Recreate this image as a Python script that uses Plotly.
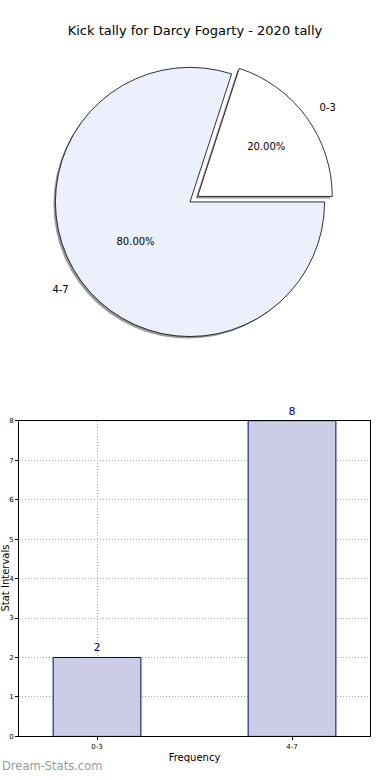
import plotly.graph_objects as go

# ---- data ----
categories = ["0-3", "4-7"]
counts = [2, 8]
pie_colors = ["#ffffff", "#ebf0fc"]
pie_pull = [0.07, 0]
title_text = "Kick tally for Darcy Fogarty - 2020 tally"
y_ticks = [0, 1, 2, 3, 4, 5, 6, 7, 8]

W, H = 390, 780
FONT = "DejaVu Sans"


def fx(p):
    return p / W


def fy(p):
    return 1 - p / H


def pie_domain(cx, cy, r, dx=0, dy=0):
    box = 2 * r * (1 + max(pie_pull))
    return dict(x=[fx(cx - box / 2 + dx), fx(cx + box / 2 + dx)],
                y=[fy(cy + box / 2 + dy), fy(cy - box / 2 + dy)])


# ---- pie geometry (pixel layout) ----
cx, cy, r = 190, 200, 136

# first wedge starts at 3 o'clock and runs counterclockwise
# (plotly's counterclockwise mode ends the first slice at `rotation`)
rotation = 90 - 360 * counts[0] / sum(counts)

fig = go.Figure()

common = dict(
    labels=categories, values=counts, sort=False, direction="counterclockwise",
    rotation=rotation, pull=pie_pull, showlegend=False, hoverinfo="skip",
)

# shadow
fig.add_trace(go.Pie(
    **common, domain=pie_domain(cx, cy, r, dx=-2, dy=2),
    marker=dict(colors=["#9a9a9a", "#9a9a9a"], line=dict(width=0)),
    textinfo="none",
))
# main pie
fig.add_trace(go.Pie(
    **common, domain=pie_domain(cx, cy, r),
    marker=dict(colors=pie_colors, line=dict(color="#000000", width=0.8)),
    texttemplate="%{percent:.2%}", textposition="inside",
    insidetextorientation="horizontal",
    textfont=dict(family=FONT, size=10, color="#000000"),
))
# outside labels (invisible, slightly larger ring so the labels sit further out)
fig.add_trace(go.Pie(
    **common, domain=pie_domain(cx, cy, r + 12),
    marker=dict(colors=["rgba(0,0,0,0)", "rgba(0,0,0,0)"], line=dict(width=0)),
    textinfo="label", textposition="outside",
    outsidetextfont=dict(family=FONT, size=10, color="#000000"),
))

# ---- bar chart ----
fig.add_trace(go.Bar(
    x=[0, 1], y=counts, width=0.45,
    marker=dict(color="#ccccE6", line=dict(color="#000080", width=1)),
    text=[str(c) for c in counts], textposition="outside",
    textfont=dict(family=FONT, size=11, color="#000099"),
    cliponaxis=False, showlegend=False, hoverinfo="skip",
))

axis_common = dict(
    showgrid=True, griddash="1px,2px", gridcolor="#aaaaaa", gridwidth=1,
    showline=True, linecolor="#000000", linewidth=1, mirror=True,
    ticks="outside", ticklen=3, tickcolor="#000000",
    tickfont=dict(family=FONT, size=7, color="#000000"), zeroline=False,
)

fig.update_layout(
    width=W, height=H,
    margin=dict(l=0, r=0, t=0, b=0),
    paper_bgcolor="#ffffff", plot_bgcolor="#ffffff",
    font=dict(family=FONT, color="#000000"),
    title=dict(text=title_text, x=0.5, xanchor="center", y=fy(30), yanchor="middle",
               font=dict(family=FONT, size=13, color="#000000")),
    xaxis=dict(**axis_common, domain=[fx(19), fx(370)], range=[-0.4, 1.4],
               tickmode="array", tickvals=[0, 1], ticktext=categories,
               title=dict(text="Frequency", font=dict(family=FONT, size=10), standoff=4)),
    yaxis=dict(**axis_common, domain=[fy(740), fy(421)], range=[0, 8],
               tickmode="array", tickvals=y_ticks),
    annotations=[
        dict(text="Stat Intervals", textangle=-90, x=fx(5.5), y=fy(580), xref="paper", yref="paper",
             xanchor="center", yanchor="middle", showarrow=False,
             font=dict(family=FONT, size=10, color="#000000")),
        dict(text="Dream-Stats.com", x=0, y=fy(770), xref="paper", yref="paper",
             xanchor="left", yanchor="middle", showarrow=False,
             font=dict(family=FONT, size=11.5, color="#999999")),
    ],
)

fig.write_html(
    "out.html",
    config={"displayModeBar": False},
    post_script="document.body.style.margin='0';document.body.style.overflow='hidden';",
)
